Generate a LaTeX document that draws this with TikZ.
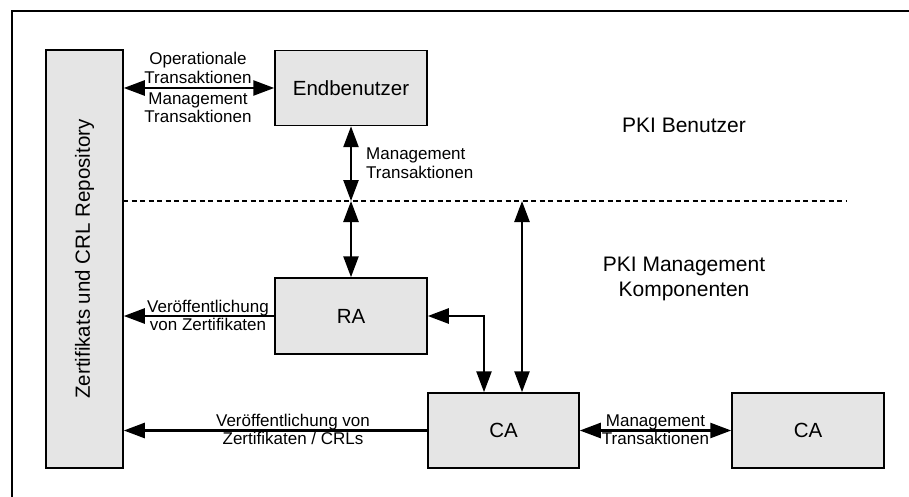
\documentclass[tikz,border=0pt]{standalone}
\usepackage{fontspec}
\setmainfont{Liberation Sans}
\usetikzlibrary{arrows.meta}
\definecolor{boxfill}{RGB}{229,229,229}
\tikzset{
  box/.style={draw=black, line width=1.5pt, fill=boxfill, inner sep=0pt, font=\fontsize{20.5}{24}\selectfont},
  lbl/.style={inner sep=0pt, align=center, font=\fontsize{17}{18.5}\selectfont},
  biglbl/.style={inner sep=0pt, align=center, font=\fontsize{21}{24.5}\selectfont},
  arr/.style={line width=2.5pt, -{Triangle[length=21pt,width=15pt]}},
  darr/.style={line width=2.5pt, {Triangle[length=21pt,width=15pt]}-{Triangle[length=21pt,width=15pt]}},
  sep/.style={line width=2pt, dash pattern=on 5pt off 3.5pt},
  frame/.style={line width=2pt}
}
\begin{document}
\begin{tikzpicture}[x=1pt,y=-1pt]
\useasboundingbox (0,0) rectangle (909,497);
\coordinate (fbl) at (12,497);
\coordinate (ftl) at (12,11);
\coordinate (ftr) at (909,11);
\draw[frame] (fbl) -- (ftl) -- (ftr);

\node[box, rotate=90, minimum width=418pt, minimum height=77pt] (repo) at (84.5,259) {Zertifikats und CRL Repository};
\node[box, minimum width=152pt, minimum height=75pt] (endb) at (351,88) {Endbenutzer};
\node[box, minimum width=152pt, minimum height=76pt] (ra) at (351,316) {RA};
\node[box, minimum width=151pt, minimum height=75pt] (ca1) at (503.5,430.5) {CA};
\node[box, minimum width=152pt, minimum height=75pt] (ca2) at (808,430.5) {CA};

\coordinate (dl) at (123,201);
\coordinate (dr) at (847,201);
\draw[sep] (dl) -- (dr);

\coordinate (m1) at (351,201);
\coordinate (m2) at (522,201);
\coordinate (bend) at (484,316);

\draw[darr] (endb.west -| repo.south) -- (endb.west);
\draw[darr] (endb.south) -- (m1);
\draw[darr] (m1) -- (ra.north);
\draw[darr] (m2) -- (m2 |- ca1.north);
\draw[darr] (ra.east) -- (bend) -- (bend |- ca1.north);
\draw[arr] (ra.west) -- (ra.west -| repo.south);
\draw[arr] (ca1.west) -- (ca1.west -| repo.south);
\draw[darr] (ca1.east) -- (ca2.west);

\node[lbl] (l1) at (198,68) {Operationale\\Transaktionen};
\node[lbl] (l2) at (198,107.5) {Management\\Transaktionen};
\node[lbl, anchor=west, align=left] (l3) at (366,163) {Management\\Transaktionen};
\node[lbl] (l4) at (208,315.5) {Veröffentlichung\\von Zertifikaten};
\node[lbl] (l5) at (293,429.5) {Veröffentlichung von\\Zertifikaten / CRLs};
\node[lbl] (l6) at (655.5,429.5) {Management\\Transaktionen};
\node[biglbl] (pb) at (684,125.5) {PKI Benutzer};
\node[biglbl] (pm) at (684,279) {PKI Management\\Komponenten};
\end{tikzpicture}
\end{document}
